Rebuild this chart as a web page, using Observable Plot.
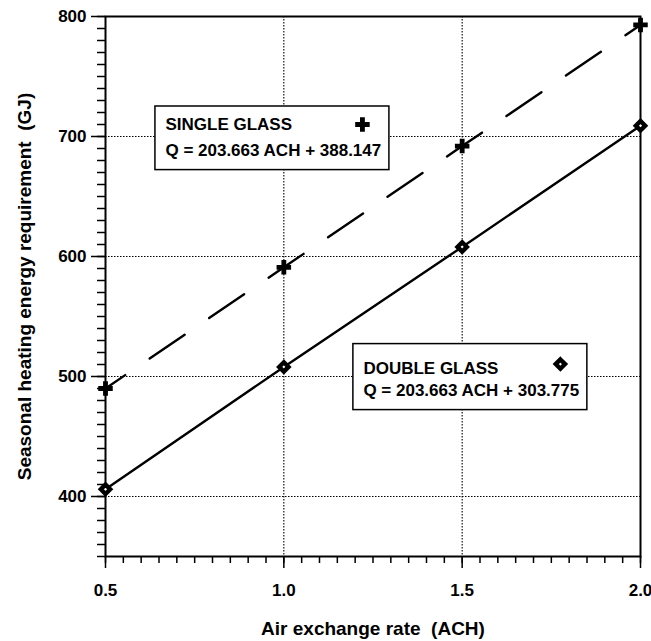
<!DOCTYPE html>
<html>
<head>
<meta charset="utf-8">
<script src="https://cdn.jsdelivr.net/npm/d3@7"></script>
<script src="https://cdn.jsdelivr.net/npm/@observablehq/plot@0.6"></script>
<style>
  html, body { margin: 0; padding: 0; background: white; }
  #chart svg { display: block; }
</style>
</head>
<body>
<div id="chart"></div>
<script>
// ---- data ----
const ach = [0.5, 1.0, 1.5, 2.0];
const singleGlassQ = [490, 591, 692, 793];
const doubleGlassQ = [406, 508, 608, 709];
const seriesNames = ["SINGLE GLASS", "DOUBLE GLASS"];
const seriesEquations = ["Q = 203.663 ACH + 388.147", "Q = 203.663 ACH + 303.775"];
const xTickValues = [0.5, 1.0, 1.5, 2.0];
const yTickValues = [400, 500, 600, 700, 800];
const xGridValues = [1.0, 1.5];
const yGridValues = [400, 500, 600, 700];
const xTitle = "Air exchange rate\u00a0 (ACH)";
const yTitle = "Seasonal heating energy requirement\u00a0 (GJ)";

const single = ach.map((a, i) => ({ach: a, q: singleGlassQ[i]}));
const dbl = ach.map((a, i) => ({ach: a, q: doubleGlassQ[i]}));

// minor tick positions
const xMinor = d3.range(10, 41).map(i => i / 20);
const yMinor = d3.range(35, 81).map(i => i * 10);

const font = "'Liberation Sans', Arial, Helvetica, sans-serif";

// legend boxes (annotation placement in data units)
const singleBox = [{x1: 0.64, x2: 1.296, y1: 672, y2: 725, title: seriesNames[0], eq: seriesEquations[0]}];
const doubleBox = [{x1: 1.195, x2: 1.851, y1: 472, y2: 527, title: seriesNames[1], eq: seriesEquations[1]}];

function legendMarks(box, symbolMarkOpts, t1, t2, sx, sy) {
  return [
    Plot.rect(box, {x1: "x1", x2: "x2", y1: "y1", y2: "y2", fill: "white", stroke: "black", strokeWidth: 1.5}),
    Plot.text(box, {x: "x1", y: "y2", text: "title", textAnchor: "start", lineAnchor: "middle", dx: 10, dy: t1, fontSize: 17, fontWeight: "bold", fontFamily: font, fill: "black"}),
    Plot.text(box, {x: "x1", y: "y2", text: "eq", textAnchor: "start", lineAnchor: "middle", dx: 10, dy: t2, fontSize: 17, fontWeight: "bold", fontFamily: font, fill: "black"}),
    Plot.dot(box, {x: "x1", y: "y2", dx: sx, dy: sy, ...symbolMarkOpts})
  ];
}

const plusOpts = {symbol: "cross", r: 6.1, fill: "black", stroke: "none"};
const diamondOpts = {symbol: "diamond2", r: 4.2, fill: "white", stroke: "black", strokeWidth: 4.4};

const chart = Plot.plot({
  width: 651,
  height: 641,
  marginLeft: 105,
  marginRight: 11,
  marginTop: 16,
  marginBottom: 85,
  style: {fontFamily: font, fontSize: "17px", fontWeight: "bold", color: "black", background: "white"},
  x: {domain: [0.5, 2.0], axis: null, label: null},
  y: {domain: [350, 800], axis: null, label: null},
  marks: [
    // dotted grid
    Plot.ruleX(xGridValues, {stroke: "black", strokeWidth: 1.1, strokeDasharray: "1.5,1.5"}),
    Plot.ruleY(yGridValues, {stroke: "black", strokeWidth: 1.1, strokeDasharray: "1.5,1.5"}),
    // legend boxes
    ...legendMarks(singleBox, plusOpts, 18, 44, 207, 18),
    ...legendMarks(doubleBox, diamondOpts, 24, 46, 207, 20),
    // series lines
    Plot.line(single, {x: "ach", y: "q", stroke: "black", strokeWidth: 2.4, strokeDasharray: "42.3,29.6", strokeDashoffset: 18.5}),
    Plot.line(dbl, {x: "ach", y: "q", stroke: "black", strokeWidth: 2.4}),
    // axes: minor ticks
    Plot.axisX(xMinor, {anchor: "bottom", tickSize: 7, tickFormat: () => "", strokeWidth: 1.5, label: null}),
    Plot.axisY(yMinor, {anchor: "left", tickSize: 8, tickFormat: () => "", strokeWidth: 1.5, label: null}),
    // axes: major ticks with labels
    Plot.axisX(xTickValues, {anchor: "bottom", tickSize: 12, tickPadding: 15, tickFormat: d3.format(".1f"), strokeWidth: 1.5, fontSize: 17, fontWeight: "bold", label: null}),
    Plot.axisY(yTickValues, {anchor: "left", tickSize: 14, tickPadding: 5, tickFormat: d3.format("d"), strokeWidth: 1.5, fontSize: 17, fontWeight: "bold", label: null}),
    // frame
    Plot.frame({stroke: "black", strokeWidth: 2}),
    // markers
    Plot.dot(single, {x: "ach", y: "q", ...plusOpts}),
    Plot.dot(dbl, {x: "ach", y: "q", ...diamondOpts}),
    // axis titles
    Plot.text([xTitle], {text: d => d, frameAnchor: "bottom", textAnchor: "middle", lineAnchor: "middle", dy: 72, fontSize: 19, fontWeight: "bold", fontFamily: font, fill: "black"}),
    Plot.text([yTitle], {text: d => d, frameAnchor: "left", textAnchor: "middle", lineAnchor: "middle", rotate: -90, dx: -81, fontSize: 19, fontWeight: "bold", fontFamily: font, fill: "black"})
  ]
});

document.getElementById("chart").appendChild(chart);
</script>
</body>
</html>
